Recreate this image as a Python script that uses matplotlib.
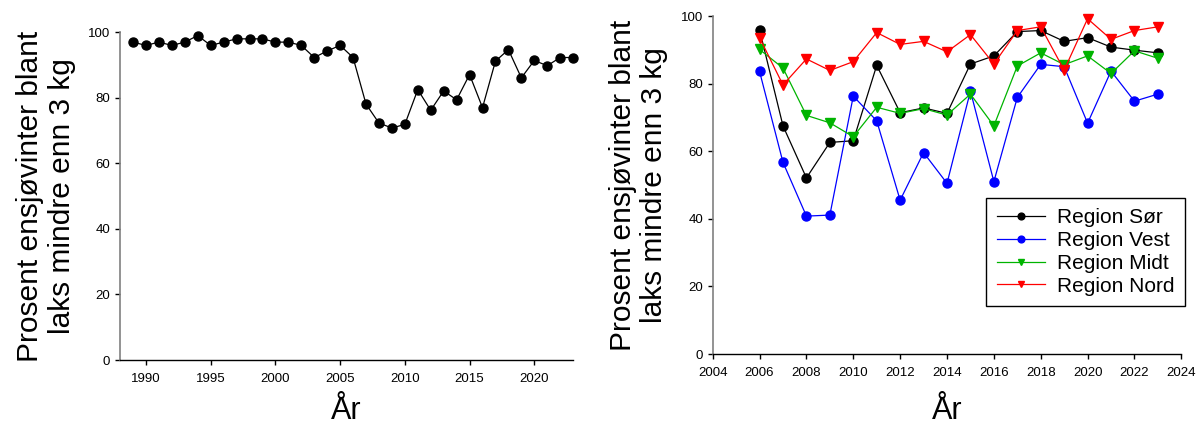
import numpy as np
import matplotlib
matplotlib.use("Agg")
import matplotlib.pyplot as plt

plt.rcParams['font.family'] = ['Liberation Sans', 'DejaVu Sans']

# Andel ensjøvinterlaks under 3 kg, hele landet
years_all = list(range(1989, 2024))
pct_all = [97, 96, 97, 96, 97, 99, 96, 97, 98, 98, 98, 97, 97, 96, 92.3, 94.3,
           96, 92.3, 78.1, 72.3, 70.8, 71.9, 82.5, 76.2, 82.1, 79.4, 87.1,
           77.0, 91.2, 94.7, 86.1, 91.4, 89.8, 92.3, 92.3]

# Per region
years_reg = list(range(2006, 2024))
sor = [95.9, 67.5, 52.1, 62.6, 63.1, 85.4, 71.4, 72.8, 71.2, 85.8, 88.2, 95.4,
       95.7, 92.5, 93.6, 90.8, 89.9, 89.1]
vest = [83.6, 56.7, 40.8, 41.1, 76.3, 69.0, 45.5, 59.6, 50.5, 77.8, 51.0, 75.9,
        85.7, 85.0, 68.3, 83.7, 74.8, 76.9]
midt = [90.1, 84.6, 70.6, 68.4, 64.3, 73.0, 71.2, 72.6, 70.7, 76.9, 67.5, 85.2,
        89.1, 85.6, 88.2, 83.0, 89.7, 87.5]
nord = [93.6, 79.6, 87.3, 83.9, 86.5, 95.1, 91.6, 92.5, 89.4, 94.5, 85.8, 95.7,
        96.8, 84.0, 99.2, 93.1, 95.7, 96.8]

ylabel = "Prosent ensjøvinter blant\nlaks mindre enn 3 kg"
xlabel = "År"


def style_axes(ax, xpad):
    ax.spines['top'].set_visible(False)
    ax.spines['right'].set_visible(False)
    ax.spines['left'].set_color('#808080')
    ax.spines['left'].set_linewidth(1.2)
    ax.spines['bottom'].set_color('black')
    ax.spines['bottom'].set_linewidth(1.0)
    ax.tick_params(direction='out', length=3.5, width=1.0, labelsize=9.5,
                   colors='black')
    ax.tick_params(axis='x', pad=6)
    ax.set_ylim(0, 100)
    ax.set_yticks(np.arange(0, 101, 20))
    ax.set_ylabel(ylabel, fontsize=21.5, labelpad=9, linespacing=1.15,
                  multialignment='center')
    ax.set_xlabel(xlabel, fontsize=22, labelpad=xpad)


fig = plt.figure(figsize=(11.97, 4.26), dpi=100)

ax1 = fig.add_axes([0.1003, 0.1549, 0.3785, 0.7693])
ax1.plot(years_all, pct_all, '-o', color='black', lw=0.9, markersize=6.5,
         clip_on=False)
ax1.set_xlim(1988, 2023)
ax1.set_xticks(range(1990, 2021, 5))
style_axes(ax1, 8)

ax2 = fig.add_axes([0.5954, 0.169, 0.3915, 0.7934])
series = [
    ("Region Sør", sor, 'black', 'o'),
    ("Region Vest", vest, '#0000ff', 'o'),
    ("Region Midt", midt, '#00b400', 'v'),
    ("Region Nord", nord, '#ff0000', 'v'),
]
for label, vals, col, mk in series:
    ax2.plot(years_reg, vals, '-', marker=mk, color=col, lw=0.9,
             markersize=6.5, label=label, clip_on=False)
ax2.set_xlim(2004, 2024)
ax2.set_xticks(range(2004, 2025, 2))
style_axes(ax2, 12)

leg = ax2.legend(loc='upper right', bbox_to_anchor=(1.008, 0.4615),
                 fontsize=15, frameon=True, fancybox=False, framealpha=1,
                 edgecolor='black', handlelength=2.3, markerscale=0.75,
                 labelspacing=0.18, borderpad=0.5, handletextpad=0.6,
                 borderaxespad=0)
leg.get_frame().set_linewidth(1.0)

fig.savefig("out.png", dpi=100)
